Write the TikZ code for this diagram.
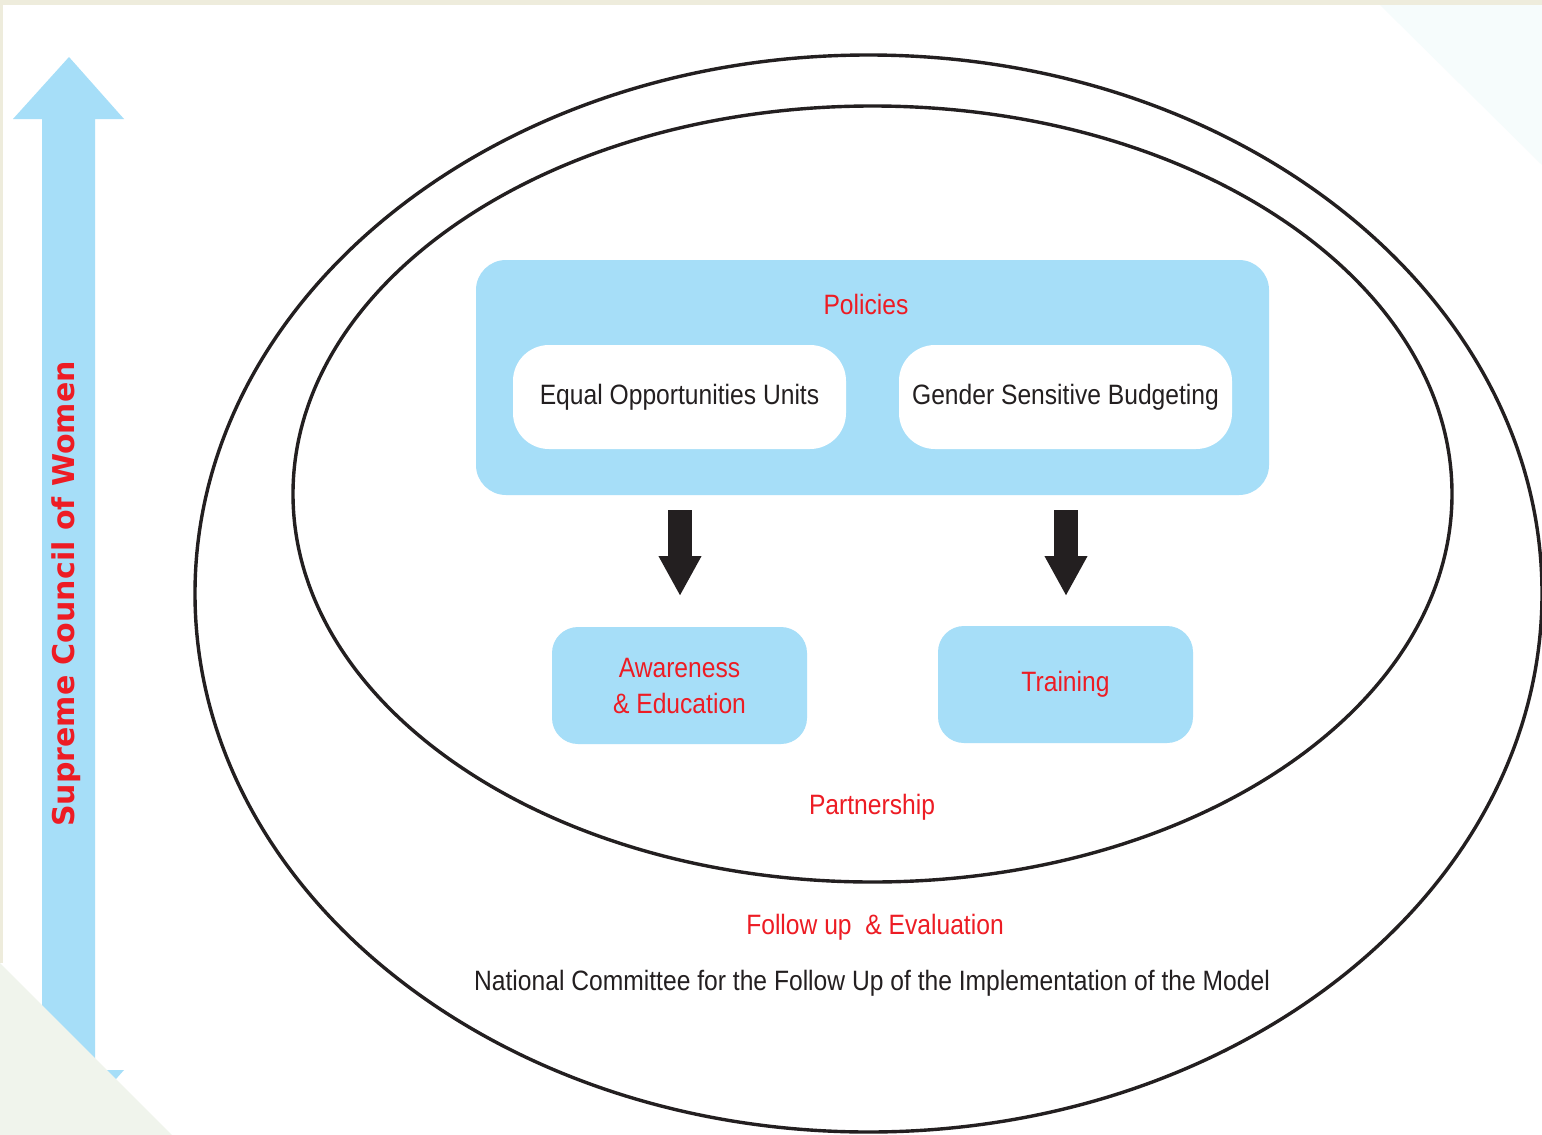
\documentclass[tikz,border=0pt]{standalone}
\usepackage{fontspec}
\setmainfont{Liberation Sans}[FakeStretch=0.88]
\newfontfamily\sidefont{DejaVu Sans}
\usetikzlibrary{arrows.meta}

\definecolor{skyfill}{HTML}{A6DEF8}
\definecolor{alertred}{HTML}{ED1C24}
\definecolor{inkblack}{HTML}{231F20}
\definecolor{creamedge}{HTML}{EEECDC}
\definecolor{sagecorner}{HTML}{F0F4EC}
\definecolor{mistcorner}{HTML}{F6FCFC}

\tikzset{
  panel/.style={fill=skyfill, draw=none, rounded corners=15pt},
  whitecard/.style={fill=white, draw=none, rounded corners=18pt,
    minimum width=166.5pt, minimum height=52pt, font=\fontsize{14}{17}\selectfont, text=inkblack},
  actionbox/.style={fill=skyfill, draw=none, rounded corners=13pt,
    minimum width=127.5pt, minimum height=58.5pt, align=center,
    font=\fontsize{14}{18}\selectfont, text=alertred},
  redlabel/.style={text=alertred, font=\fontsize{14}{17}\selectfont},
  blacklabel/.style={text=inkblack, font=\fontsize{14}{17}\selectfont},
  ring/.style={draw=inkblack, line width=1.7pt},
  downarrow/.style={draw=inkblack, line width=12pt,
    -{Triangle[width=20pt,length=20pt]}},
}

\begin{document}
\begin{tikzpicture}[x=0.5pt,y=-0.5pt]
\useasboundingbox (0,0) rectangle (1542,1135);
\fill[white] (0,0) rectangle (1542,1135);

% page edges and corner tints
\fill[creamedge] (0,0) rectangle (1542,5);
\fill[creamedge] (0,0) rectangle (3,963);
\fill[mistcorner] (1380,5) -- (1542,5) -- (1542,165) -- cycle;

% vertical double-headed band on the left
\fill[skyfill] (69,57) -- (124,119) -- (95,119) -- (95,1070) -- (124,1070)
  -- (69,1132) -- (13,1070) -- (42,1070) -- (42,119) -- (13,119) -- cycle;
\node[rotate=90, text=alertred, font=\sidefont\bfseries\fontsize{15}{18}\selectfont]
  (council) at (66,594) {Supreme Council of Women};

% lower-left corner tint covers the end of the band
\fill[sagecorner] (0,963) -- (172,1135) -- (0,1135) -- cycle;

% the two rings
\draw[ring] (868.5,593.5) ellipse [x radius=673.5, y radius=538.5];
\draw[ring] (872.5,494) ellipse [x radius=579.5, y radius=388];

% policies panel
\node[panel, minimum width=396.5pt, minimum height=117.5pt] (policies) at (872.5,377.5) {};
\node[redlabel] (policyhead) at (866,304) {Policies};
\node[whitecard] (equal) at (679.5,397) {\raisebox{-1.5pt}{Equal Opportunities Units}};
\node[whitecard] (budget) at (1065.5,397) {\raisebox{-1pt}{Gender Sensitive Budgeting}};

% outcome boxes
\node[actionbox] (aware) at (679.5,685.5) {Awareness\\\& Education};
\node[actionbox] (training) at (1065.5,684.5) {\raisebox{-2pt}{Training}};

% block arrows from the panel to the outcome boxes
\coordinate (leftstart) at (680,510);
\coordinate (leftend) at (680,596);
\coordinate (rightstart) at (1066,510);
\coordinate (rightend) at (1066,596);
\draw[downarrow] (leftstart) -- (leftend);
\draw[downarrow] (rightstart) -- (rightend);

% ring captions
\node[redlabel] (partner) at (872,807) {Partnership};
\node[redlabel] (follow) at (875,927) {Follow up \ \& Evaluation};
\node[blacklabel] (committee) at (872,983)
  {National Committee for the Follow Up of the Implementation of the Model};
\end{tikzpicture}
\end{document}
